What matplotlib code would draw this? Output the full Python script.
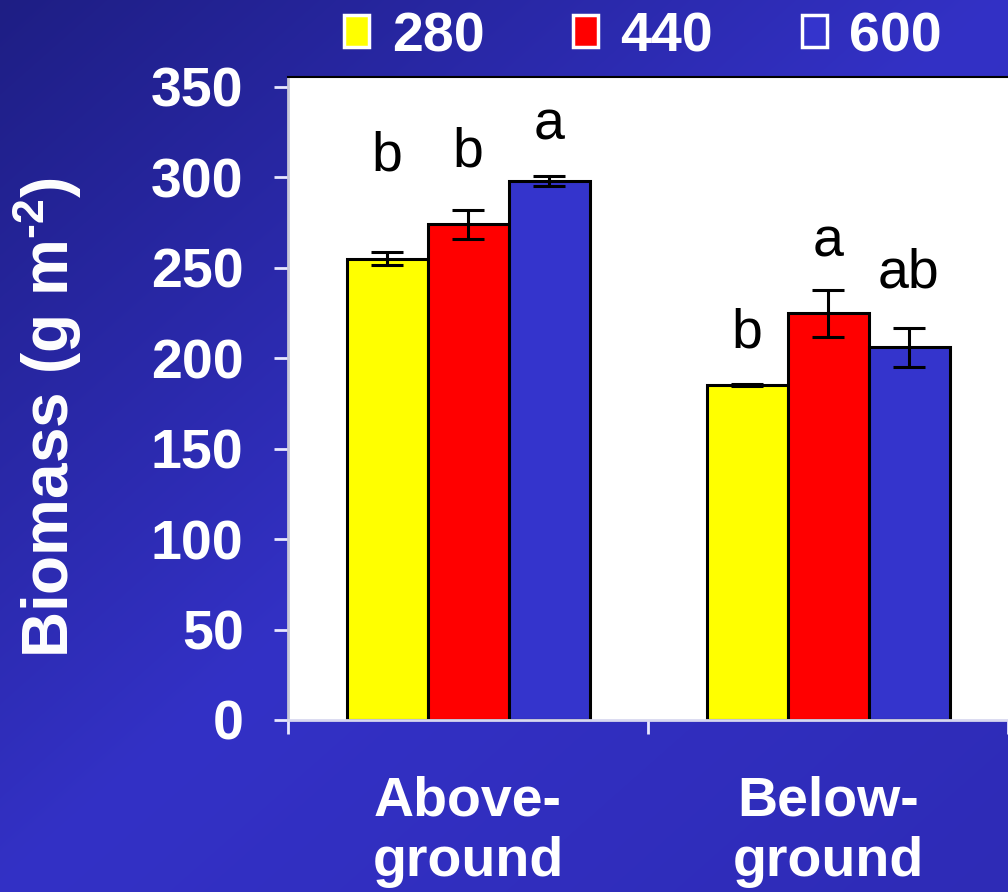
"""Biomass bar chart: above- vs below-ground at three CO2 levels."""
import numpy as np
import matplotlib
matplotlib.use("Agg")
import matplotlib.pyplot as plt
from matplotlib.patches import Rectangle

plt.rcParams["font.family"] = ["Liberation Sans", "DejaVu Sans"]
plt.rcParams["mathtext.fontset"] = "custom"
plt.rcParams["mathtext.rm"] = "Liberation Sans:bold"
plt.rcParams["mathtext.bf"] = "Liberation Sans:bold"

# ── data ────────────────────────────────────────────────────────────────────
categories = ["Above-\nground", "Below-\nground"]
levels = ["280", "440", "600"]
means = {
    "280": [255, 185],
    "440": [274, 225],
    "600": [298, 206],
}
errors = {
    "280": [3.5, 0.5],
    "440": [8, 13],
    "600": [2.5, 11],
}
letters = {
    "280": ["b", "b"],
    "440": ["b", "a"],
    "600": ["a", "ab"],
}
letter_y = {
    "280": [304, 206],
    "440": [306, 256],
    "600": [321, 239],
}
y_ticks = [0, 50, 100, 150, 200, 250, 300, 350]

colors = {"280": "#ffff00", "440": "#ff0000", "600": "#3434cc"}

# ── figure + gradient background ────────────────────────────────────────────
W, H, DPI = 1008, 892, 100
fig = plt.figure(figsize=(W / DPI, H / DPI), dpi=DPI)

yy, xx = np.mgrid[0:H, 0:W]
t = (xx / W + yy / H) / 2.0
c0 = np.array([30, 30, 132]) / 255
c1 = np.array([51, 49, 198]) / 255
c2 = np.array([46, 43, 182]) / 255
a = np.clip(t / 0.5, 0, 1)[..., None]
b = np.clip((t - 0.5) / 0.5, 0, 1)[..., None]
grad = np.where(t[..., None] <= 0.5, c0 + (c1 - c0) * a, c1 + (c2 - c1) * b)
bg = fig.add_axes([0, 0, 1, 1], zorder=-5)
bg.imshow(grad, aspect="auto", extent=[0, 1, 0, 1], origin="upper")
bg.axis("off")

# ── main axes ───────────────────────────────────────────────────────────────
left_px, bottom_px, top_px = 288, 720, 77
unit_px = 367
ax = fig.add_axes([left_px / W, 1 - bottom_px / H, 1 - left_px / W,
                   (bottom_px - top_px) / H])
ax.set_facecolor("white")

x = np.arange(len(categories))
width = 0.225
for i, lev in enumerate(levels):
    pos = x + (i - 1) * width
    ax.bar(pos, means[lev], width, color=colors[lev], edgecolor="black",
           linewidth=2.2, zorder=2)
    ax.errorbar(pos, means[lev], yerr=errors[lev], fmt="none", ecolor="black",
                elinewidth=2.2, capsize=11.5, capthick=2.2, zorder=3)
    for j in range(len(categories)):
        ax.text(pos[j], letter_y[lev][j], letters[lev][j], ha="center",
                va="baseline", fontsize=40, color="black", zorder=4)

ax.set_xlim(-0.5, -0.5 + (W - left_px) / unit_px)
ax.set_ylim(0, 355.5)
ax.set_yticks(y_ticks)
ax.set_yticklabels([str(v) for v in y_ticks], fontsize=40, fontweight="bold",
                   color="white")
ax.tick_params(axis="y", length=10, width=2, color="#e8e8ff", pad=22)

ax.set_xticks(x)
ax.set_xticklabels(categories, fontsize=40, fontweight="bold", color="white",
                   linespacing=1.2)
ax.tick_params(axis="x", which="major", length=0, pad=40)
ax.set_xticks([-0.5, 0.5, 1.5], minor=True)
ax.tick_params(axis="x", which="minor", length=10, width=2, color="#e8e8ff")

ax.spines["right"].set_visible(False)
ax.spines["top"].set_color("black")
ax.spines["top"].set_linewidth(1.5)
ax.spines["left"].set_color("#c8c8d8")
ax.spines["left"].set_linewidth(2)
ax.spines["bottom"].set_color("#d8d8f0")
ax.spines["bottom"].set_linewidth(2)

fig.text(47 / W, 1 - 417 / H, "Biomass (g m$^{\\text{-2}}$)", rotation=90,
         ha="center", va="center", fontsize=46, fontweight="bold",
         color="white")

# ── legend ──────────────────────────────────────────────────────────────────
handles = [Rectangle((0, 0), 1, 1, facecolor=colors[l], edgecolor="white",
                     linewidth=2.5) for l in levels]
leg = fig.legend(handles, levels, loc="center", bbox_to_anchor=(0.638, 1 - 37 / H),
                 ncol=3, frameon=False, handlelength=0.45, handleheight=0.5,
                 handletextpad=0.4, columnspacing=1.6,
                 prop={"size": 40, "weight": "bold"})
for txt in leg.get_texts():
    txt.set_color("white")

fig.savefig("out.png", dpi=DPI)
